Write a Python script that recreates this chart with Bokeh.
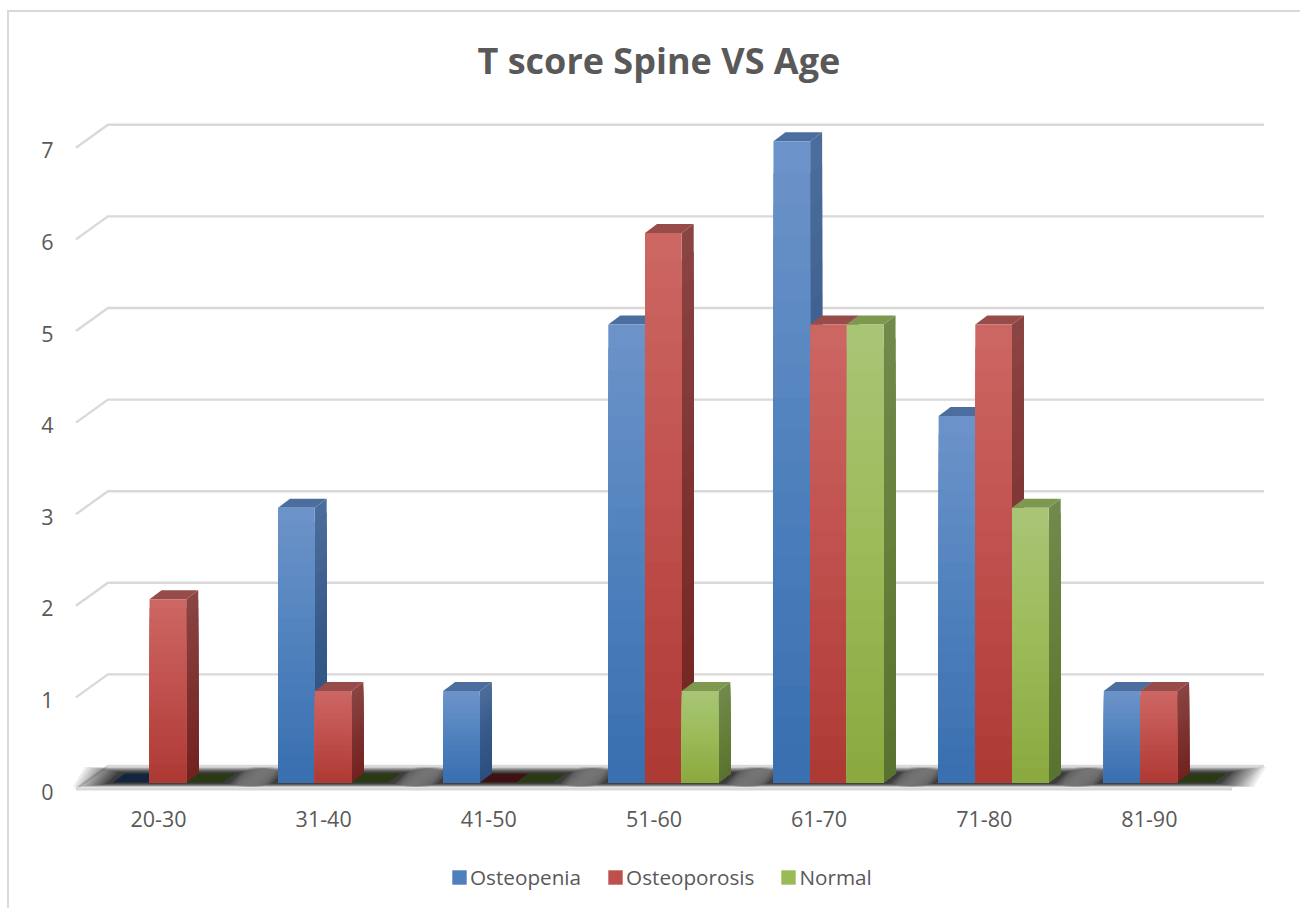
from bokeh.plotting import figure
from bokeh.embed import file_html
from bokeh.resources import INLINE
from bokeh.models import ColumnDataSource, FixedTicker, InlineStyleSheet, Legend, LegendItem, LinearAxis, Range1d

categories = ["20-30", "31-40", "41-50", "51-60", "61-70", "71-80", "81-90"]
osteopenia = [0, 3, 1, 5, 7, 4, 1]
osteoporosis = [2, 1, 0, 6, 5, 5, 1]
normal = [0, 0, 0, 1, 5, 3, 0]
y_ticks = [0, 1, 2, 3, 4, 5, 6, 7]

PXX, PXY = 165.15, 91.6          # pixels per unit
X0_PX, Y0_PX = 158.0, 788.5      # picture pixel of x=0 / y=0
FRAME = (58, 1270, 90, 905)      # left, right, top, bottom picture px
AXIS_PX = 795                    # picture pixel of the category axis, inside the frame
WIDTH, HEIGHT = 1300, 908

series = [
    dict(name="Osteopenia", vals=osteopenia, slot=-1,
         front=["#6c93c9", "#4f81bd", "#3a6fb0"], side=["#4c6d9b", "#36598a", "#2b5080"],
         top="#4c6e9f", zero="#14263f"),
    dict(name="Osteoporosis", vals=osteoporosis, slot=0,
         front=["#cc6662", "#c0504d", "#ae3a35"], side=["#8a4442", "#7e3230", "#72231f"],
         top="#974c4a", zero="#3e1212"),
    dict(name="Normal", vals=normal, slot=1,
         front=["#a8c575", "#9bbb59", "#8aa93f"], side=["#708a4c", "#65803a", "#5b7330"],
         top="#7e984f", zero="#2a3a14"),
]

y_start, y_end = (Y0_PX-FRAME[3])/PXY, (Y0_PX-FRAME[2])/PXY
p = figure(frame_width=FRAME[1]-FRAME[0], frame_height=FRAME[3]-FRAME[2],
           output_backend="svg", toolbar_location=None,
           x_range=Range1d((FRAME[0]-X0_PX)/PXX, (FRAME[1]-X0_PX)/PXX),
           y_range=Range1d(y_start, y_end), y_axis_location=None,
           min_border_left=FRAME[0], min_border_right=WIDTH-FRAME[1],
           min_border_top=FRAME[2], min_border_bottom=HEIGHT-FRAME[3],
           outline_line_color=None, background_fill_color="white", border_fill_color="white")
p.grid.visible = False

# chart-area border: top and left edges only, as the other two lie outside the picture
p.stylesheets = [InlineStyleSheet(css=":host{position:relative}"
                 ":host::after{content:'';position:absolute;left:7px;top:10px;right:0;bottom:0;"
                 "border-left:2px solid #d9d9d9;border-top:2px solid #d9d9d9;pointer-events:none}")]

# title
p.title.text = "T score Spine VS Age"
p.title.text_font = "Open Sans"
p.title.text_font_style = "bold"
p.title.text_font_size = "36px"
p.title.text_color = "#595959"
p.title.align = "left"
p.title.offset = 419
p.title.standoff = 11

# axes: the value labels sit a little below their gridlines, so they use a shifted range
p.extra_y_ranges = {"labels": Range1d(y_start+2.5/PXY, y_end+2.5/PXY)}
yaxis = LinearAxis(y_range_name="labels", ticker=FixedTicker(ticks=y_ticks), major_label_standoff=5)
p.add_layout(yaxis, "left")
xaxis = p.xaxis[0]
for ax in (xaxis, yaxis):
    ax.axis_line_color = None
    ax.major_tick_line_color = None
    ax.minor_tick_line_color = None
    ax.major_tick_in = 0
    ax.major_tick_out = 0
    ax.major_label_text_font = "Open Sans"
    ax.major_label_text_font_size = "21.5px"
    ax.major_label_text_color = "#595959"
xaxis.ticker = FixedTicker(ticks=list(range(len(categories))))
xaxis.major_label_overrides = {i: c for i, c in enumerate(categories)}
xaxis.major_label_standoff = 15
xaxis.fixed_location = (Y0_PX-AXIS_PX)/PXY

# depth vectors, in data units
fdx, fdy = 32/PXX, 23/PXY        # whole floor
bdx, bdy = 12/PXX, 9/PXY         # bar depth
base = (Y0_PX-782)/PXY           # bar base above the floor's front edge
bw = 36.7/PXX                    # bar width
bar_shift = 9.4/PXX              # bars sit towards the rear of the floor
x_lo, x_hi = -0.5, len(categories)-0.5

# floor
p.patch([x_lo, x_hi, x_hi+fdx, x_lo+fdx], [0, 0, fdy, fdy], fill_color="#f4f4f4", line_color=None)

# gridlines
GRID = "#d9d9d9"
p.multi_line([[x_lo, x_lo+fdx, x_hi+fdx] for _ in y_ticks],
             [[v, v+fdy, v+fdy] for v in y_ticks], line_color=GRID, line_width=2.4)

# floor shadow: nested translucent outlines standing in for a blur
LAYERS = 18
for k in range(LAYERS):
    t = 1 - k/(LAYERS-1)
    mx = (6 + 34*t**1.5)/PXX
    my_lo = (1 + 3.5*t)/PXY
    my_hi = (1 + 5.5*t)/PXY
    xs, ys = [], []
    for i in range(len(categories)):
        l = i + bar_shift - 1.5*bw - mx
        r = i + bar_shift + 1.5*bw + mx
        xs.append([l, r, r+bdx, l+bdx])
        ys.append([base-my_lo, base-my_lo, base+bdy+my_hi, base+bdy+my_hi])
    p.patches(xs, ys, fill_color="black", fill_alpha=0.07, line_color=None)
p.line([x_lo, x_hi], [0, 0], line_color=GRID, line_width=3)


def hex2rgb(h):
    return [int(h[i:i+2], 16) for i in (1, 3, 5)]


def ramp(stops, t):
    a, b, u = (stops[0], stops[1], t*2) if t < .5 else (stops[1], stops[2], t*2-1)
    ca, cb = hex2rgb(a), hex2rgb(b)
    return "#%02x%02x%02x" % tuple(round(x+(y-x)*u) for x, y in zip(ca, cb))


N = 20
items = []
for s in series:
    sxs, sys, scol = [], [], []
    txs, tys, tcol = [], [], []
    fl, fr, ft, fb, fc = [], [], [], [], []
    for i, v in enumerate(s["vals"]):
        l = i + bar_shift + (s["slot"]-0.5)*bw
        r = l + bw
        top = base + v
        txs.append([l, r, r+bdx, l+bdx])
        tys.append([top, top, top+bdy, top+bdy])
        tcol.append(s["top"] if v else s["zero"])
        if v:
            for k in range(N):
                t = k/(N-1)
                y = top - v*k/N
                sxs.append([r, r+bdx, r+bdx, r])
                sys.append([y, y+bdy, base+bdy, base])
                scol.append(ramp(s["side"], t))
                fl.append(l); fr.append(r); ft.append(y); fb.append(base)
                fc.append(ramp(s["front"], t))
    p.patches(sxs, sys, fill_color=scol, line_color=None)
    p.patches(txs, tys, fill_color=tcol, line_color=None)
    src = ColumnDataSource(dict(left=fl, right=fr, top=ft, bottom=fb, color=fc))
    r = p.quad(left="left", right="right", top="top", bottom="bottom", source=src,
               fill_color="color", line_color=None)
    items.append(LegendItem(label=s["name"], renderers=[r], index=N//2))

legend = Legend(items=items, orientation="horizontal", location=(392, 14),
                background_fill_alpha=0, border_line_color=None,
                padding=0, margin=0, spacing=25, label_standoff=2,
                glyph_width=18, glyph_height=18,
                label_text_font="Open Sans", label_text_font_size="20.7px",
                label_text_color="#595959")
p.add_layout(legend)

open("out.html", "w").write(file_html(p, INLINE))
